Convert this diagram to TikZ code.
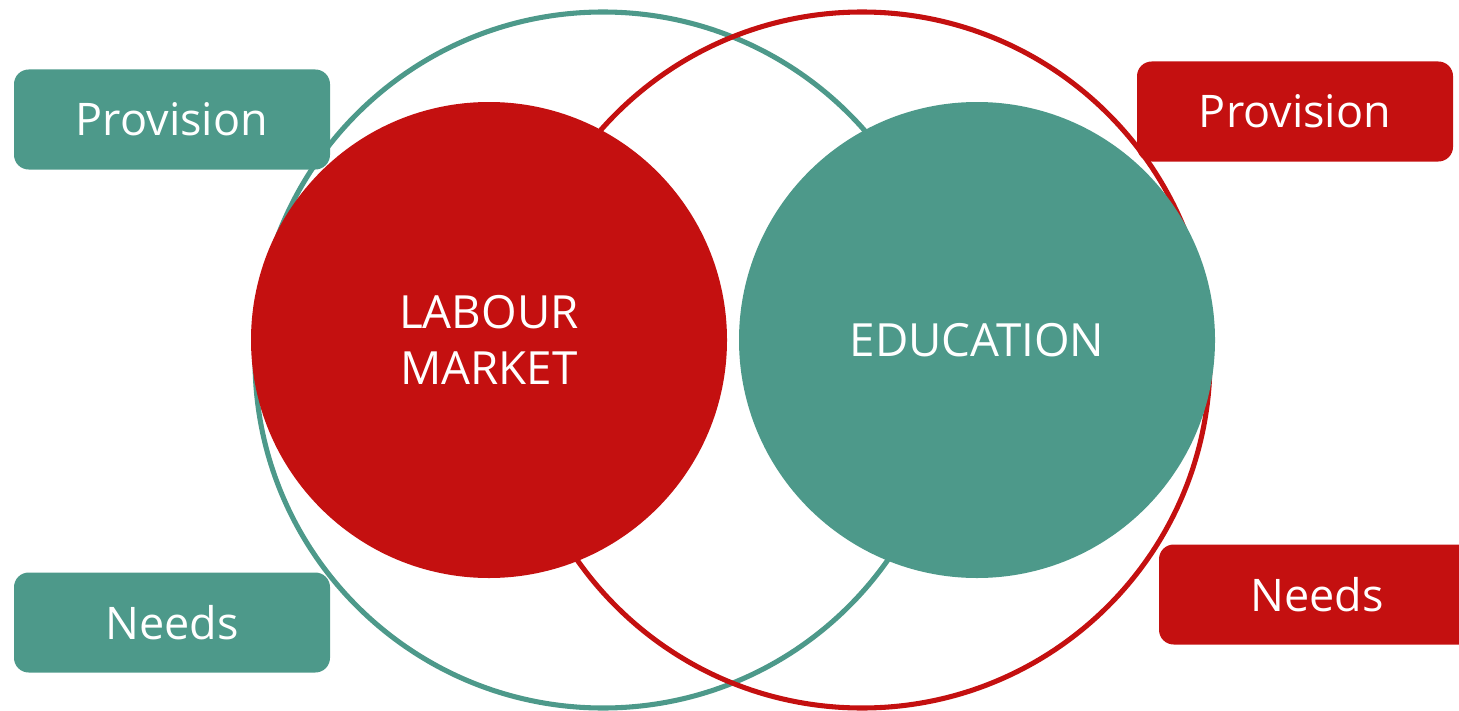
\documentclass[tikz,border=0pt]{standalone}
\usepackage{fontspec}
\setmainfont{Open Sans}
\definecolor{teal}{HTML}{4D998A}
\definecolor{brick}{HTML}{C41010}
\begin{document}
\begin{tikzpicture}[x=0.75pt,y=-0.75pt,
  ring/.style={draw=#1,line width=3.8pt},
  disc/.style={circle,fill=#1,draw=none,minimum size=357pt,inner sep=0pt,
    text=white,font=\fontsize{34.3}{42.5}\selectfont,align=center},
  tag/.style={rectangle,rounded corners=11pt,fill=#1,draw=none,
    minimum width=237pt,minimum height=75pt,inner sep=0pt,
    text=white,font=\fontsize{33.7}{40}\selectfont}]
  \useasboundingbox (0,0) rectangle (1459,710);
  \clip (0,0) rectangle (1459,710);
  % outer rings
  \draw[ring=teal] (603,360) circle[radius=348];
  \draw[ring=brick] (862,360) circle[radius=348];
  % inner discs
  \node[disc=brick] (labour) at (489,340) {LABOUR\\MARKET};
  \node[disc=teal] (education) at (977,340) {EDUCATION};
  % side tags
  \node[tag=teal] (provL) at (172,119.5) {Provision};
  \node[tag=teal] (needL) at (172,622.5) {Needs};
  \node[tag=brick] (provR) at (1295,111.5) {Provision};
  \node[tag=brick] (needR) at (1317,594.5) {Needs};
\end{tikzpicture}
\end{document}
